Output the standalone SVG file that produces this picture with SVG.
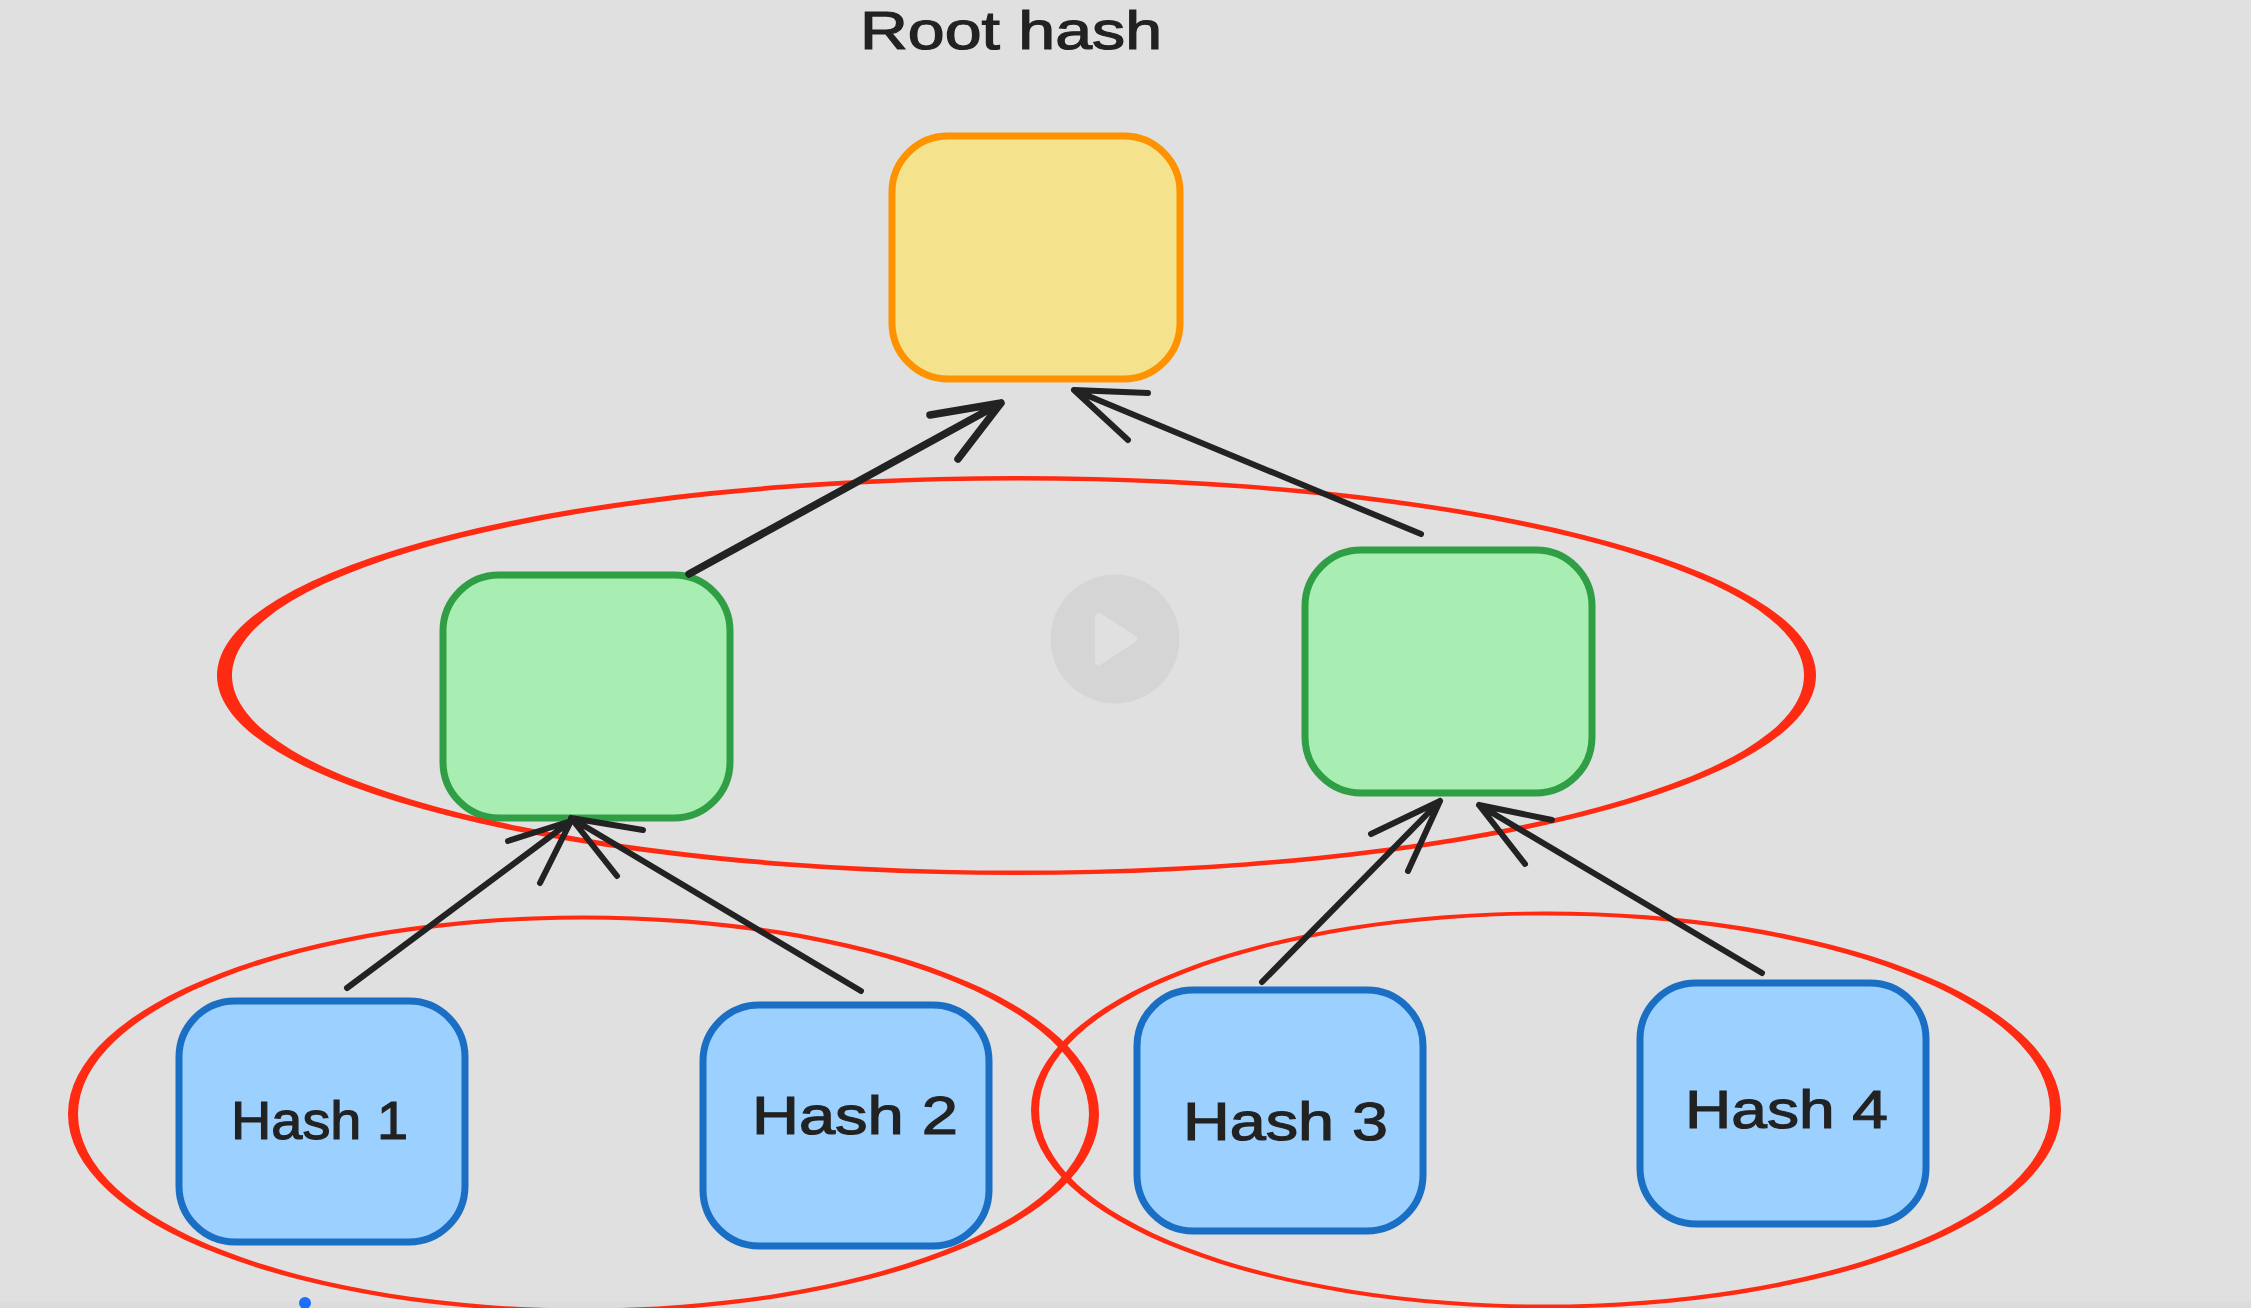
<svg xmlns="http://www.w3.org/2000/svg" width="2251" height="1308" viewBox="0 0 2251 1308">
<defs>
<style>
.label{font-family:"Liberation Sans",Arial,sans-serif;font-size:54px;fill:#222;stroke:#222;stroke-width:1.2}
.box{stroke-width:7}
.blue{fill:#9bd0ff;stroke:#1a6fc4}
.green{fill:#a8eeb2;stroke:#2f9e44}
.yellow{fill:#f5e28c;stroke:#ff9200}
.arrow{fill:none;stroke:#222;stroke-width:6;stroke-linecap:round;stroke-linejoin:round}
.heavy{stroke-width:7.5}
.red{fill:#ff2a12;fill-rule:evenodd}
</style>
</defs>
<rect width="2251" height="1308" fill="#e0e0e0"/>
<rect y="1302" width="2251" height="6" fill="#dcdcdc"/>
<g id="root-label"><text class="label" x="860" y="49" textLength="302" lengthAdjust="spacingAndGlyphs">Root hash</text></g>
<g id="root"><rect class="box yellow" x="892" y="136" width="288" height="243" rx="56"/></g>
<g id="mid-left"><rect class="box green" x="443" y="575" width="287" height="243" rx="56"/></g>
<g id="mid-right"><rect class="box green" x="1305" y="550" width="287" height="243" rx="56"/></g>
<g id="hash-1"><rect class="box blue" x="179" y="1001" width="286" height="241" rx="56"/><text class="label" x="231" y="1139" textLength="177" lengthAdjust="spacingAndGlyphs">Hash 1</text></g>
<g id="hash-2"><rect class="box blue" x="703" y="1005" width="286" height="241" rx="56"/><text class="label" x="752" y="1134" textLength="206" lengthAdjust="spacingAndGlyphs">Hash 2</text></g>
<g id="hash-3"><rect class="box blue" x="1137" y="990" width="286" height="241" rx="56"/><text class="label" x="1183" y="1140" textLength="205" lengthAdjust="spacingAndGlyphs">Hash 3</text></g>
<g id="hash-4"><rect class="box blue" x="1640" y="983" width="286" height="241" rx="56"/><text class="label" x="1685" y="1128" textLength="203" lengthAdjust="spacingAndGlyphs">Hash 4</text></g>
<g id="groups">
<path id="ring-top" class="red" d="M217 675.5A799.5 199.5 0 1 0 1816 675.5A799.5 199.5 0 1 0 217 675.5ZM232 675.5A786 195 0 1 1 1804 675.5A786 195 0 1 1 232 675.5Z"/>
<path id="ring-left" class="red" d="M68 1114A515.5 198.5 0 1 0 1099 1114A515.5 198.5 0 1 0 68 1114ZM78 1114A505.5 194.5 0 1 1 1089 1114A505.5 194.5 0 1 1 78 1114Z"/>
<path id="ring-right" class="red" d="M1031 1110A515 198.5 0 1 0 2061 1110A515 198.5 0 1 0 1031 1110ZM1039 1110A505.5 194.5 0 1 1 2050 1110A505.5 194.5 0 1 1 1039 1110Z"/>
</g>
<g id="connectors">
<path class="arrow heavy" d="M689 574L1001 403M930 415L1001 403L958 459"/>
<path class="arrow" d="M1421 534L1074 390M1148 393L1074 390L1128 440"/>
<path class="arrow" d="M347 988L571 821M508 841L571 821L540 883"/>
<path class="arrow" d="M861 991L571 818M643 830L571 818L617 876"/>
<path class="arrow" d="M1262 982L1440 801M1371 834L1440 801L1408 871"/>
<path class="arrow" d="M1762 973L1479 805M1552 820L1479 805L1525 864"/>
</g>
<g id="play"><circle cx="1115" cy="639" r="64.500" fill="#d5d5d5"/><path d="M1099 617L1133 639L1099 661Z" fill="#e0e0e0" stroke="#e0e0e0" stroke-width="8" stroke-linejoin="round"/></g>
<circle id="cursor" cx="305" cy="1303" r="6" fill="#1a6fff"/>
</svg>
